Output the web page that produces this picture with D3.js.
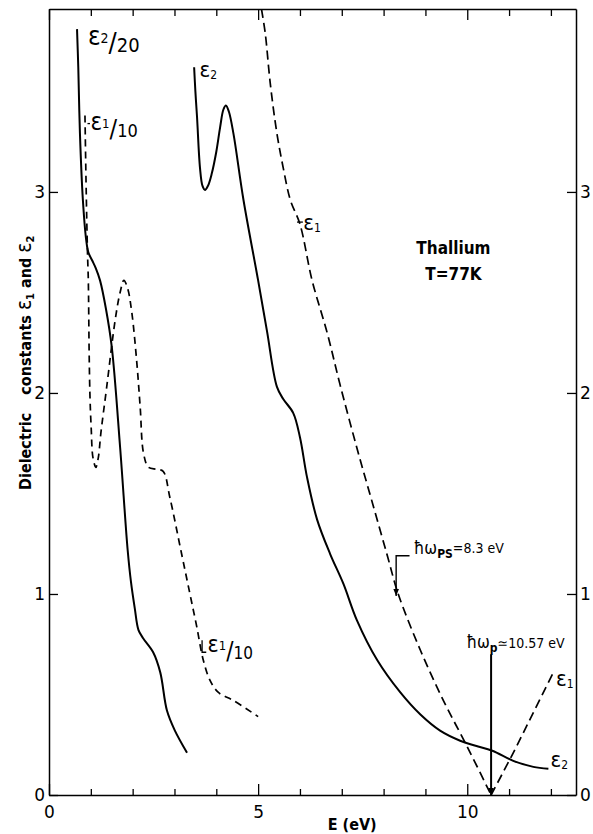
<!DOCTYPE html>
<html>
<head>
<meta charset="utf-8">
<script src="https://cdn.jsdelivr.net/npm/d3@7"></script>
<style>
  body { margin: 0; background: #fff; }
  svg text { font-family: "DejaVu Sans Condensed", "DejaVu Sans", sans-serif; fill: #000; }
</style>
</head>
<body>
<div id="grafica"></div>
<script>
// values (plotted values: eps2/20 and eps1/10 on the left)
var e2LowE = [0.67, 0.70, 0.74, 0.81, 0.89, 0.94, 1.03, 1.12, 1.22, 1.36, 1.50, 1.70, 1.88, 1.96, 2.05, 2.14, 2.25, 2.49, 2.66, 2.82, 3.01, 3.30];
var e2LowV = [3.81, 3.62, 3.29, 2.96, 2.76, 2.70, 2.66, 2.62, 2.56, 2.42, 2.23, 1.73, 1.22, 1.06, 0.93, 0.82, 0.78, 0.71, 0.61, 0.42, 0.32, 0.21];

var e1LowE = [0.86, 0.89, 0.92, 0.94, 0.96, 0.98, 1.01, 1.05, 1.12, 1.18, 1.24, 1.38, 1.58, 1.70, 1.79, 1.88, 1.98, 2.10, 2.18, 2.26, 2.38, 2.58, 2.73, 2.89, 3.17, 3.37, 3.53, 3.69, 3.85, 4.05, 4.41, 5.00];
var e1LowV = [3.38, 3.00, 2.70, 2.56, 2.20, 1.98, 1.82, 1.68, 1.63, 1.68, 1.80, 2.03, 2.36, 2.50, 2.56, 2.52, 2.40, 2.15, 1.93, 1.70, 1.63, 1.62, 1.61, 1.48, 1.20, 1.00, 0.84, 0.67, 0.57, 0.51, 0.47, 0.39];

var e2HighE = [3.47, 3.50, 3.54, 3.61, 3.67, 3.73, 3.80, 3.89, 4.00, 4.09, 4.17, 4.23, 4.30, 4.41, 4.65, 5.00, 5.21, 5.45, 5.60, 5.84, 6.00, 6.17, 6.41, 6.72, 7.04, 7.36, 7.85, 8.40, 8.88, 9.35, 9.83, 10.2, 10.6, 11.1, 11.58, 11.94];
var e2HighV = [3.62, 3.50, 3.37, 3.12, 3.03, 3.01, 3.03, 3.09, 3.20, 3.32, 3.41, 3.43, 3.40, 3.29, 2.96, 2.56, 2.31, 2.03, 1.97, 1.90, 1.78, 1.58, 1.37, 1.20, 1.05, 0.87, 0.67, 0.51, 0.40, 0.32, 0.27, 0.245, 0.22, 0.17, 0.14, 0.13];

var e1HighE = [5.08, 5.17, 5.29, 5.45, 5.60, 5.77, 6.00, 6.29, 6.65, 6.96, 7.37, 7.75, 8.09, 8.35, 8.88, 9.43, 10.0, 10.57, 11.1, 11.58, 12.06];
var e1HighV = [3.91, 3.79, 3.54, 3.29, 3.12, 2.96, 2.84, 2.56, 2.30, 2.04, 1.72, 1.44, 1.19, 1.00, 0.72, 0.47, 0.24, 0.00, 0.21, 0.41, 0.61];

var xTicks = [0, 1, 2, 3, 4, 5, 6, 7, 8, 9, 10, 11, 12];
var xLabels = [0, 5, 10];
var yTicks = [0, 1, 2, 3];

var hwPS = 8.3;     // eV
var hwP = 10.57;    // eV

// set the dimensions and margins of the graph
var margin = {top: 9, right: 17, bottom: 39, left: 49},
    width = 593 - margin.left - margin.right,
    height = 834 - margin.top - margin.bottom;

var svg = d3.select("#grafica")
  .append("svg")
  .attr("width", width + margin.left + margin.right)
  .attr("height", height + margin.top + margin.bottom)
  .append("g")
  .attr("transform", `translate(${margin.left},${margin.top})`);

var x = d3.scaleLinear().domain([0, 12.6]).range([0, width]);
var y = d3.scaleLinear().domain([0, 3.91]).range([height, 0]);

var defs = svg.append("defs");
defs.append("clipPath").attr("id", "clip")
  .append("rect").attr("width", width).attr("height", height);

defs.append("marker")
  .attr("id", "arrow")
  .attr("viewBox", "0 0 10 10")
  .attr("refX", 10).attr("refY", 5)
  .attr("markerWidth", 7).attr("markerHeight", 8)
  .attr("markerUnits", "userSpaceOnUse")
  .attr("orient", "auto")
  .append("path").attr("d", "M0,1 L10,5 L0,9 Z").attr("fill", "#000");

// axes: ticks point inward on all four sides
function styleAxis(g, fs) {
  g.select(".domain").attr("stroke", "#000").attr("stroke-width", 1.5);
  g.selectAll(".tick line").attr("stroke", "#000").attr("stroke-width", 1.3);
  g.selectAll(".tick text").style("font-size", fs + "px").style("font-family", "DejaVu Sans, sans-serif");
}

var fmtX = function(d) { return xLabels.indexOf(d) >= 0 ? d : ""; };

var xb = svg.append("g")
  .attr("transform", `translate(0,${height})`)
  .call(d3.axisBottom(x).tickValues(xTicks).tickSize(-6).tickSizeOuter(0).tickPadding(11).tickFormat(fmtX));
xb.selectAll(".tick line").attr("y2", function(d) { return xLabels.indexOf(d) >= 0 ? -11 : -6; });
styleAxis(xb, 17);

var xt = svg.append("g")
  .call(d3.axisTop(x).tickValues(xTicks).tickSize(-7).tickSizeOuter(0).tickFormat(""));
xt.selectAll(".tick line").attr("y2", function(d) { return xLabels.indexOf(d) >= 0 ? 11 : 7; });
styleAxis(xt, 17);

var yl = svg.append("g")
  .call(d3.axisLeft(y).tickValues(yTicks).tickSize(-9).tickSizeOuter(0).tickPadding(4).tickFormat(d3.format("d")));
styleAxis(yl, 17);

var yr = svg.append("g")
  .attr("transform", `translate(${width},0)`)
  .call(d3.axisRight(y).tickValues(yTicks).tickSize(-9).tickSizeOuter(0).tickPadding(4).tickFormat(d3.format("d")));
styleAxis(yr, 17);

// axis titles
svg.append("text")
  .attr("x", x(7.25))
  .attr("y", height + 35)
  .style("text-anchor", "middle")
  .style("font-size", "16px")
  .style("font-weight", "bold")
  .text("E (eV)");

var yt = svg.append("text")
  .attr("transform", `translate(${-18},${y(2.15)}) rotate(-90)`)
  .style("text-anchor", "middle")
  .style("font-size", "16px")
  .style("font-weight", "bold");
yt.append("tspan").text("Dielectric");
yt.append("tspan").attr("dx", 18).text("constants ");
yt.append("tspan").style("font-size", "21px").style("font-weight", "normal").text("ε");
yt.append("tspan").style("font-size", "11px").attr("dy", 3).text("1");
yt.append("tspan").attr("dy", -3).text(" and ");
yt.append("tspan").style("font-size", "21px").style("font-weight", "normal").text("ε");
yt.append("tspan").style("font-size", "11px").attr("dy", 3).text("2");

// the curves
function pairs(es, vs) { return es.map(function(e, i) { return [e, vs[i]]; }); }

var line = d3.line()
  .x(function(d) { return x(d[0]); })
  .y(function(d) { return y(d[1]); })
  .curve(d3.curveCatmullRom.alpha(0.5));

var plot = svg.append("g").attr("clip-path", "url(#clip)");

plot.append("path").datum(pairs(e2LowE, e2LowV))
  .attr("fill", "none").attr("stroke", "#000").attr("stroke-width", 2).attr("d", line);
plot.append("path").datum(pairs(e1LowE, e1LowV))
  .attr("fill", "none").attr("stroke", "#000").attr("stroke-width", 1.7)
  .attr("stroke-dasharray", "7,5").attr("d", line);
plot.append("path").datum(pairs(e2HighE, e2HighV))
  .attr("fill", "none").attr("stroke", "#000").attr("stroke-width", 2).attr("d", line);

// eps1 has a sharp zero at the plasma energy: draw both arms separately
var e1High = pairs(e1HighE, e1HighV);
var iZero = e1HighE.indexOf(hwP);
[e1High.slice(0, iZero + 1), e1High.slice(iZero)].forEach(function(arm) {
  plot.append("path").datum(arm)
    .attr("fill", "none").attr("stroke", "#000").attr("stroke-width", 1.7)
    .attr("stroke-dasharray", "9,5").attr("d", line);
});

// curve labels: epsilon, subscript, optional "/n"
function epsLabel(E, V, sub, div, size) {
  var t = svg.append("text").attr("x", x(E)).attr("y", y(V));
  t.append("tspan").style("font-size", size + "px").text("ε");
  t.append("tspan").style("font-size", Math.round(size * 0.55) + "px").attr("dy", div ? -2 : 2).text(sub);
  if (div) {
    t.append("tspan").style("font-size", Math.round(size * 1.05) + "px").attr("dy", 9).text("/");
    t.append("tspan").style("font-size", Math.round(size * 0.75) + "px").text(div);
  }
  return t;
}

function leader(pts) {
  svg.append("path")
    .attr("d", d3.line()(pts.map(function(p) { return [x(p[0]), y(p[1])]; })))
    .attr("fill", "none").attr("stroke", "#000").attr("stroke-width", 1.3);
}

epsLabel(0.93, 3.73, "2", "20", 26);
leader([[0.92, 3.34], [0.98, 3.34]]);
epsLabel(0.99, 3.31, "1", "10", 24);
epsLabel(3.60, 3.57, "2", null, 22);
leader([[5.93, 2.85], [6.07, 2.85]]);
epsLabel(6.08, 2.81, "1", null, 22);
leader([[3.66, 0.77], [3.66, 0.71], [3.76, 0.71]]);
epsLabel(3.79, 0.71, "1", "10", 23);
epsLabel(12.12, 0.54, "1", null, 22);
epsLabel(11.99, 0.14, "2", null, 22);

// sample
svg.append("text")
  .attr("x", x(9.67)).attr("y", y(2.69))
  .style("text-anchor", "middle").style("font-size", "17px").style("font-weight", "bold")
  .text("Thallium");
svg.append("text")
  .attr("x", x(9.67)).attr("y", y(2.56))
  .style("text-anchor", "middle").style("font-size", "17px").style("font-weight", "bold")
  .text("T=77K");

// plasmon arrows
svg.append("path")
  .attr("d", d3.line()([[x(hwPS + 0.32), y(1.19)], [x(hwPS), y(1.19)], [x(hwPS), y(0.99)]]))
  .attr("fill", "none").attr("stroke", "#000").attr("stroke-width", 1.4)
  .attr("marker-end", "url(#arrow)");
var tps = svg.append("text").attr("x", x(hwPS + 0.42)).attr("y", y(1.20));
tps.append("tspan").style("font-size", "17px").text("ħω");
tps.append("tspan").style("font-size", "12px").attr("dy", 4).style("font-weight", "bold").text("PS");
tps.append("tspan").style("font-size", "14px").attr("dy", -5).text("=8.3 eV");

svg.append("path")
  .attr("d", d3.line()([[x(hwP), y(0.70)], [x(hwP), y(0)]]))
  .attr("fill", "none").attr("stroke", "#000").attr("stroke-width", 2)
  .attr("marker-end", "url(#arrow)");
var tp = svg.append("text").attr("x", x(9.98)).attr("y", y(0.73));
tp.append("tspan").style("font-size", "17px").text("ħω");
tp.append("tspan").style("font-size", "12px").attr("dy", 4).style("font-weight", "bold").text("p");
tp.append("tspan").style("font-size", "14px").attr("dy", -4).text("≃10.57 eV");
</script>
</body>
</html>
